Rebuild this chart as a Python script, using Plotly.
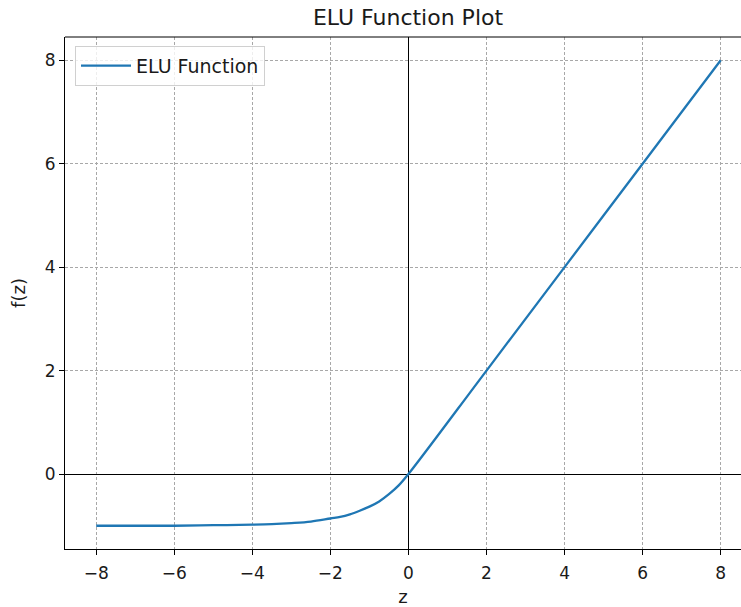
import plotly.graph_objects as go

# Sampled ELU curve (alpha = 1)
z_vals = [-8, -7, -6, -5, -4, -3.5, -3, -2.5, -2, -1.75, -1.5, -1.25, -1,
          -0.75, -0.5, -0.25, 0, 2, 4, 6, 8]
f_vals = [-1.00, -1.00, -1.00, -0.99, -0.98, -0.97, -0.95, -0.92, -0.86,
          -0.83, -0.78, -0.71, -0.63, -0.53, -0.39, -0.22, 0, 2, 4, 6, 8]

x_ticks = [-8, -6, -4, -2, 0, 2, 4, 6, 8]
y_ticks = [0, 2, 4, 6, 8]

FONT = "DejaVu Sans"
TXT = "#1a1a1a"
GRID = "#a8a8a8"

fig = go.Figure()
fig.add_trace(go.Scatter(
    x=z_vals, y=f_vals, mode="lines", name="ELU Function",
    line=dict(color="#1f77b4", width=2.3, shape="spline", smoothing=1.0),
))

fig.update_layout(
    width=741, height=607,
    margin=dict(l=65, r=0, t=37, b=58),
    paper_bgcolor="white", plot_bgcolor="white",
    font=dict(family=FONT, size=18, color=TXT),
    title=dict(text="ELU Function Plot", x=408 / 741, xanchor="center",
               y=1 - 17 / 607, yanchor="middle",
               font=dict(family=FONT, size=22, color=TXT)),
    legend=dict(x=0.0148, y=0.983, xanchor="left", yanchor="top",
                itemwidth=50,
                bgcolor="rgba(255,255,255,0.8)", bordercolor="#d0d0d0",
                borderwidth=1, font=dict(family=FONT, size=19, color=TXT)),
    showlegend=True,
)

fig.update_xaxes(
    range=[-8.8, 8.52], tickvals=x_ticks,
    ticktext=[str(v).replace("-", "\u2212") for v in x_ticks],
    ticks="outside", ticklen=5, tickcolor="black", tickwidth=1,
    ticklabelstandoff=4,
    showline=True, linecolor="black", linewidth=1,
    showgrid=True, gridcolor=GRID, gridwidth=0.8, griddash="3px,2px",
    zeroline=True, zerolinecolor="black", zerolinewidth=0.9,
    title=dict(text="z", font=dict(family=FONT, size=18), standoff=10),
    tickfont=dict(family=FONT, size=17),
)
fig.update_yaxes(
    range=[-1.45, 8.45], tickvals=y_ticks,
    ticks="outside", ticklen=5, tickcolor="black", tickwidth=1,
    showline=True, linecolor="black", linewidth=1,
    showgrid=True, gridcolor=GRID, gridwidth=0.8, griddash="3px,2px",
    zeroline=True, zerolinecolor="black", zerolinewidth=0.9,
    title=dict(text="f(z)", font=dict(family=FONT, size=18), standoff=14),
    tickfont=dict(family=FONT, size=17),
)

# top spine
fig.add_shape(type="line", xref="paper", yref="paper", x0=0, x1=1, y0=1, y1=1,
              line=dict(color="black", width=1))

fig.write_html("out.html")
